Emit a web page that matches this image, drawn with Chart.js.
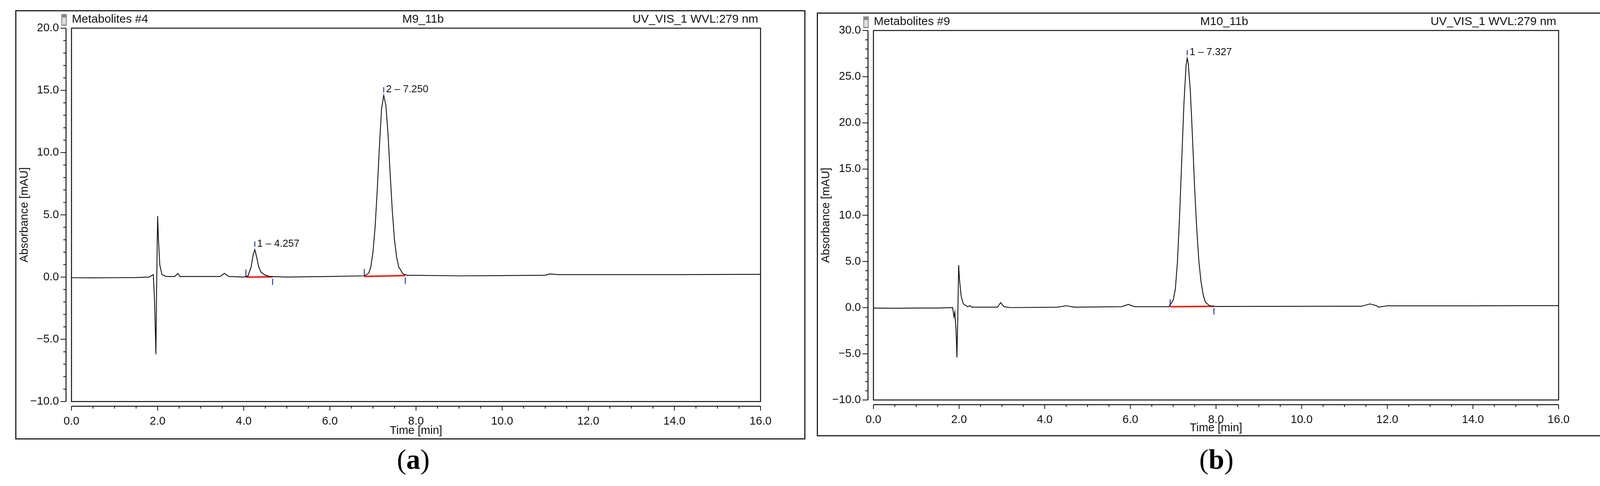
<!DOCTYPE html>
<html><head><meta charset="utf-8">
<script src="https://cdn.jsdelivr.net/npm/chart.js@4"></script>
<style>
body{margin:0;background:#fff;width:4131px;height:1243px;position:relative;overflow:hidden}
.frame{position:absolute;border:3px solid #222;box-sizing:border-box}
canvas{position:absolute;left:0;top:0}
.lab{position:absolute;font-family:"Liberation Serif",serif;font-size:72px;line-height:90px;transform:translateX(-50%)}
</style></head><body>
<div class="frame" style="left:39px;top:26px;width:2023px;height:1098px"><canvas id="ca" width="2017" height="1092"></canvas></div>
<div class="frame" style="left:2091px;top:32px;width:2018px;height:1084px"><canvas id="cb" width="2012" height="1078"></canvas></div>
<div class="lab" style="left:1058px;top:1130px">(<b>a</b>)</div>
<div class="lab" style="left:3114px;top:1130px">(<b>b</b>)</div>
<script>
// ---- Panel (a) data ----
const timeA = [0,0.5,1.0,1.5,1.8,1.85,1.9,1.93,1.96,1.98,2.0,2.02,2.05,2.1,2.2,2.4,2.47,2.52,3.0,3.45,3.55,3.65,4.0,4.1,4.17,4.22,4.257,4.3,4.35,4.4,4.5,4.6,5.0,6.0,6.8,6.9,6.95,7.0,7.05,7.1,7.15,7.2,7.25,7.3,7.35,7.4,7.45,7.5,7.55,7.6,7.7,7.8,9.0,10.0,11.0,11.1,11.3,12.0,14.0,16.0];
const absA  = [-0.05,-0.06,-0.05,-0.04,0.0,0.1,0.2,-2.0,-6.2,0.0,4.9,3.0,1.0,0.2,0.05,0.05,0.3,0.05,0.05,0.05,0.3,0.05,0.0,0.1,0.8,1.8,2.2,1.6,0.8,0.4,0.15,0.05,0.0,0.05,0.1,0.3,0.8,2.0,4.0,7.0,10.5,13.5,14.6,13.8,11.5,8.3,5.3,3.0,1.6,0.8,0.25,0.15,0.1,0.12,0.15,0.25,0.2,0.2,0.2,0.22];
const peaksA = [{t:4.257,y:2.2,label:"1 – 4.257",start:4.05,end:4.67,b0:0.0,b1:0.02},{t:7.250,y:14.6,label:"2 – 7.250",start:6.8,end:7.75,b0:0.05,b1:0.12}];
// ---- Panel (b) data ----
const timeB = [0,0.5,1.0,1.5,1.85,1.88,1.9,1.93,1.95,1.97,1.99,2.01,2.05,2.1,2.2,2.25,2.3,2.9,2.97,3.05,3.2,4.3,4.5,4.7,5.8,5.95,6.1,6.9,7.0,7.05,7.1,7.15,7.2,7.25,7.3,7.327,7.35,7.4,7.45,7.5,7.55,7.6,7.65,7.7,7.75,7.85,8.0,11.4,11.6,11.75,11.8,12.0,14.0,16.0];
const absB  = [-0.05,-0.07,-0.05,-0.05,0.0,-1.0,-0.5,-2.5,-5.4,-1.0,4.6,3.0,1.2,0.4,0.1,0.2,0.05,0.05,0.55,0.1,0.0,0.05,0.2,0.05,0.1,0.35,0.1,0.1,0.8,2.0,5.0,10.0,16.0,22.0,26.2,27.0,26.5,23.5,18.5,13.0,8.5,5.0,2.8,1.4,0.6,0.2,0.12,0.15,0.4,0.2,0.05,0.2,0.2,0.22];
const peaksB = [{t:7.327,y:27.0,label:"1 – 7.327",start:6.93,end:7.95,b0:0.1,b1:0.14}];
const xTicks = [0,2,4,6,8,10,12,14,16];

const FONT='"Liberation Sans",Arial,sans-serif';
function makeChart(id, t, y, peaks, yMin, yMax, hdr, pad){
  const pts=t.map((v,i)=>({x:v,y:y[i]}));
  const R=yMax-yMin;
  const ds=[{data:pts,borderColor:'#111',borderWidth:2.2,pointRadius:0,tension:0}];
  peaks.forEach(p=>{
    ds.push({data:[{x:p.start,y:p.b0},{x:p.end,y:p.b1}],borderColor:'#e8201c',borderWidth:4,pointRadius:0});
    ds.push({data:[{x:p.start,y:p.b0},{x:p.start,y:p.b0+R*0.02}],borderColor:'#2a3aa0',borderWidth:2.5,pointRadius:0});
    ds.push({data:[{x:p.end,y:p.b1-R*0.005},{x:p.end,y:p.b1-R*0.022}],borderColor:'#2a3aa0',borderWidth:2.5,pointRadius:0});
    ds.push({data:[{x:p.t,y:p.y+R*0.008},{x:p.t,y:p.y+R*0.022}],borderColor:'#2a3aa0',borderWidth:2.5,pointRadius:0});
  });
  const deco={id:'deco',afterDraw(c){
    const ctx=c.ctx,a=c.chartArea,xs=c.scales.x,ys=c.scales.y;
    ctx.save();ctx.strokeStyle='#111';ctx.lineWidth=2.5;
    ctx.strokeRect(a.left,a.top,a.right-a.left,a.bottom-a.top);
    const axY=a.bottom+12, axX=a.left-14;
    ctx.beginPath();ctx.moveTo(a.left,axY);ctx.lineTo(a.right,axY);
    ctx.moveTo(axX,a.top);ctx.lineTo(axX,a.bottom);ctx.stroke();
    ctx.lineWidth=2;ctx.beginPath();
    for(let v=0;v<=16.001;v+=0.5){const px=xs.getPixelForValue(v);const L=(Math.abs(v%2)<1e-6)?11:6;ctx.moveTo(px,axY);ctx.lineTo(px,axY+L);}
    for(let v=yMin;v<=yMax+1e-6;v+=1){const py=ys.getPixelForValue(v);const L=(Math.abs(v%5)<1e-6)?14:7;ctx.moveTo(axX,py);ctx.lineTo(axX-L,py);}
    ctx.stroke();
    ctx.fillStyle='#111';ctx.font='26px '+FONT;ctx.textBaseline='middle';
    peaks.forEach(p=>{ctx.fillText(p.label,xs.getPixelForValue(p.t)+6,ys.getPixelForValue(p.y+R*0.016));});
    ctx.font='30px '+FONT;
    ctx.fillStyle='#888';ctx.fillRect(a.left-26,hdr.y-14,14,30);ctx.fillStyle='#ddd';ctx.fillRect(a.left-24,hdr.y-5,10,18);
    ctx.fillStyle='#111';ctx.textAlign='left';ctx.fillText(hdr.left,a.left+1,hdr.y);
    ctx.textAlign='center';ctx.fillText(hdr.mid,hdr.midX,hdr.y);
    ctx.textAlign='right';ctx.fillText(hdr.right,a.right-6,hdr.y);
    ctx.restore();
  }};
  new Chart(document.getElementById(id),{type:'line',data:{datasets:ds},
    options:{responsive:false,devicePixelRatio:1,animation:false,
      layout:{padding:{top:pad.top,right:pad.right,left:0,bottom:0}},
      plugins:{legend:{display:false},tooltip:{enabled:false}},
      scales:{
        x:{type:'linear',min:0,max:16,grid:{display:false},border:{display:false},
           afterFit(s){s.height=pad.xh;},
           afterBuildTicks(s){s.ticks=xTicks.map(v=>({value:v}));},
           ticks:{padding:26,font:{family:FONT,size:29},color:'#111',callback:v=>v.toFixed(1)},
           title:{display:true,text:'Time [min]',font:{family:FONT,size:29},color:'#111',padding:{top:0,bottom:pad.tb}}},
        y:{min:yMin,max:yMax,grid:{display:false},border:{display:false},
           afterFit(s){s.width=pad.yw;},
           ticks:{stepSize:5,padding:24,font:{family:FONT,size:29},color:'#111',callback:v=>(v<0?'−':'')+Math.abs(v).toFixed(1)},
           title:{display:true,text:'Absorbance [mAU]',font:{family:FONT,size:29},color:'#111',padding:{top:4,bottom:0}}}
      }},plugins:[deco]});
}
makeChart('ca',timeA,absA,peaksA,-10,20,{y:21,left:'Metabolites #4',mid:'M9_11b',midX:1041,right:'UV_VIS_1 WVL:279 nm'},{top:43,right:112,xh:94,yw:141,tb:2});
makeChart('cb',timeB,absB,peaksB,-10,30,{y:21,left:'Metabolites #9',mid:'M10_11b',midX:1040,right:'UV_VIS_1 WVL:279 nm'},{top:43,right:116,xh:90,yw:142,tb:1});
</script></body></html>
